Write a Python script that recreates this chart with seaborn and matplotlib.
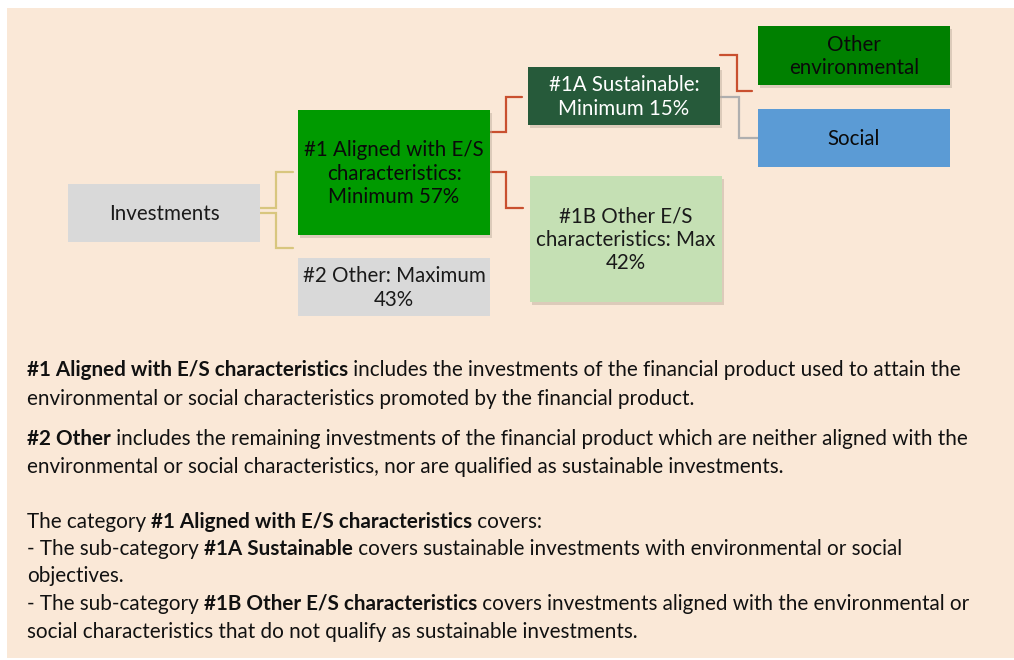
"""
Asset allocation diagram (E/S characteristics) recreated with matplotlib + seaborn.
"""

import matplotlib
matplotlib.use("Agg")
import matplotlib.pyplot as plt
from matplotlib.patches import Rectangle
import seaborn as sns

sns.set_theme(style="white")
plt.rcParams["font.family"] = ["Lato", "DejaVu Sans"]

# ──── data ────
box_names = ["investments", "aligned", "other", "sustainable", "other_es", "other_env", "social"]
box_labels = [
    "Investments",
    "#1 Aligned with E/S\ncharacteristics:\nMinimum 57%",
    "#2 Other: Maximum\n43%",
    "#1A Sustainable:\nMinimum 15%",
    "#1B Other E/S\ncharacteristics: Max\n42%",
    "Other\nenvironmental",
    "Social",
]
box_colors = ["#D9D9D9", "#009A00", "#D9D9D9", "#265A3A", "#C5E0B4", "#008000", "#5B9BD5"]
text_colors = ["#1a1a1a", "#0a0a0a", "#1a1a1a", "white", "#1a1a1a", "#0a0a0a", "#0a0a0a"]
links = [
    ("investments", "aligned", "#D8C67E"),
    ("investments", "other", "#D8C67E"),
    ("aligned", "sustainable", "#C9502F"),
    ("aligned", "other_es", "#C9502F"),
    ("sustainable", "other_env", "#C9502F"),
    ("sustainable", "social", "#AFAFAF"),
]

# explanatory notes: list of (text, bold) segments per line
notes = [
    [("#1 Aligned with E/S characteristics", True),
     (" includes the investments of the financial product used to attain the", False)],
    [("environmental or social characteristics promoted by the financial product.", False)],
    [("#2 Other", True),
     (" includes the remaining investments of the financial product which are neither aligned with the", False)],
    [("environmental or social characteristics, nor are qualified as sustainable investments.", False)],
    [("The category", False), (" #1 Aligned with E/S characteristics", True), (" covers:", False)],
    [("- The sub-category", False), (" #1A Sustainable", True),
     (" covers sustainable investments with environmental or social", False)],
    [("objectives.", False)],
    [("- The sub-category", False), (" #1B Other E/S characteristics", True),
     (" covers investments aligned with the environmental or", False)],
    [("social characteristics that do not qualify as sustainable investments.", False)],
]

# ──── layout (pixels) ────
box_pos = {  # x0, y0, x1, y1
    "investments": (68, 184, 260, 242),
    "aligned": (298, 110, 490, 235),
    "other": (298, 258, 490, 316),
    "sustainable": (528, 67, 720, 125),
    "other_es": (530, 176, 722, 302),
    "other_env": (758, 26, 950, 85),
    "social": (758, 109, 950, 167),
}
link_path = {
    ("investments", "aligned"): ([260, 276, 276, 293], [208, 208, 172, 172]),
    ("investments", "other"): ([260, 276, 276, 293], [213, 213, 248, 248]),
    ("aligned", "sustainable"): ([490, 506, 506, 522], [132, 132, 97, 97]),
    ("aligned", "other_es"): ([490, 506, 506, 523], [172, 172, 208, 208]),
    ("sustainable", "other_env"): ([720, 737, 737, 752], [55, 55, 91, 91]),
    ("sustainable", "social"): ([720, 739, 739, 758], [97, 97, 138, 138]),
}
note_y = [370, 399, 439, 467, 522, 549, 576, 604, 632]
shadowed = {"aligned", "sustainable", "other_es", "other_env"}

fig = plt.figure(figsize=(10.14, 6.6), dpi=100)
ax = fig.add_axes([0, 0, 1, 1])
ax.set_xlim(0, 1014)
ax.set_ylim(660, 0)
ax.axis("off")

# background panel
ax.add_patch(Rectangle((7, 8), 1007, 650, facecolor="#FAE8D7", edgecolor="none", zorder=0))

# connectors
for src, dst, col in links:
    xs, ys = link_path[(src, dst)]
    ax.plot(xs, ys, color=col, lw=1.6, zorder=1, solid_joinstyle="miter")

# boxes
for name, label, fc, tc in zip(box_names, box_labels, box_colors, text_colors):
    x0, y0, x1, y1 = box_pos[name]
    if name in shadowed:
        ax.add_patch(Rectangle((x0 + 2, y0 + 3), x1 - x0, y1 - y0,
                               facecolor="#b8a898", alpha=0.45, edgecolor="none", zorder=2))
    ax.add_patch(Rectangle((x0, y0), x1 - x0, y1 - y0, facecolor=fc, edgecolor="none", zorder=3))
    ax.text((x0 + x1) / 2, (y0 + y1) / 2 + 1, label, ha="center", va="center",
            fontsize=14.8, color=tc, linespacing=1.2, zorder=4)

# notes with mixed bold / regular runs
renderer = fig.canvas.get_renderer()
inv = ax.transData.inverted()
for line, y in zip(notes, note_y):
    x = 27
    for txt, bold in line:
        t = ax.text(x, y, txt, ha="left", va="center", fontsize=14.9,
                    fontweight="bold" if bold else "normal", color="#111111", zorder=4)
        bb = t.get_window_extent(renderer)
        x = inv.transform((bb.x1, bb.y0))[0]

fig.savefig("out.png", dpi=100)
plt.close(fig)
